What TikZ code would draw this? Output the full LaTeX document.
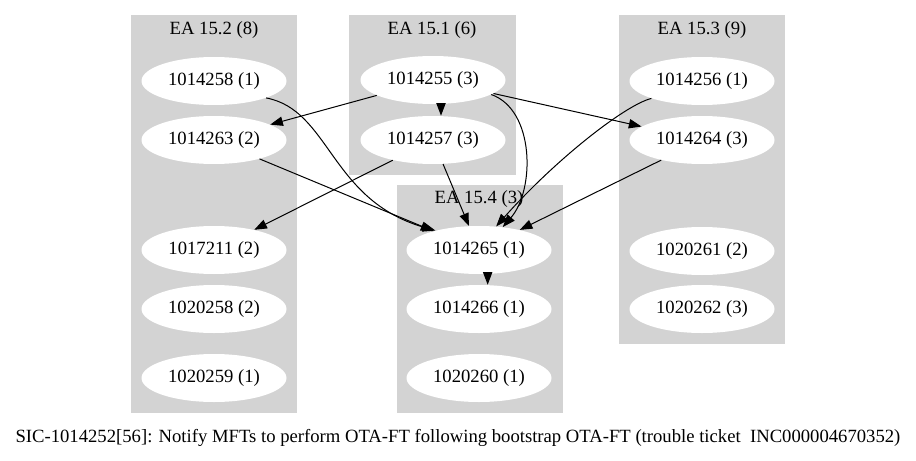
\documentclass[tikz,border=0pt]{standalone}
\usepackage{fontspec}
\setmainfont{Liberation Serif}
\usetikzlibrary{arrows.meta,shapes.geometric}
\definecolor{grisgroupe}{RGB}{211,211,211}

\begin{document}
\begin{tikzpicture}[x=0.75pt, y=-0.75pt,
    etat/.style={ellipse, fill=white, minimum width=108.75pt, minimum height=36pt, inner sep=0pt, font=\fontsize{14}{16}\selectfont},
    titre/.style={font=\fontsize{14}{16}\selectfont},
    arc/.style={-{Triangle[length=9.5pt,width=7pt]}, line width=0.75pt}]
    \useasboundingbox (0,0) rectangle (916,460);

    % Groupes
    \fill[grisgroupe] (131,15) rectangle (297,413);
    \fill[grisgroupe] (349,15) rectangle (516,175);
    \fill[grisgroupe] (619,15) rectangle (785,344);
    \fill[grisgroupe] (397,185) rectangle (563,413);
    \node[titre] (tEA152) at (214,30) {EA 15.2 (8)};
    \node[titre] (tEA151) at (432,30) {EA 15.1 (6)};
    \node[titre] (tEA153) at (702,30) {EA 15.3 (9)};
    \node[titre] (tEA154) at (479,199) {EA 15.4 (3)};

    % EA 15.2
    \node[etat] (n1014258) at (214,81) {1014258 (1)};
    \node[etat] (n1014263) at (214,140) {1014263 (2)};
    \node[etat] (n1017211) at (214,250) {1017211 (2)};
    \node[etat] (n1020258) at (214,309) {1020258 (2)};
    \node[etat] (n1020259) at (214,378) {1020259 (1)};

    % EA 15.1
    \node[etat] (n1014255) at (433,80) {1014255 (3)};
    \node[etat] (n1014257) at (433,140) {1014257 (3)};

    % EA 15.4
    \node[etat] (n1014265) at (479,250) {1014265 (1)};
    \node[etat] (n1014266) at (479,309) {1014266 (1)};
    \node[etat] (n1020260) at (479,378) {1020260 (1)};

    % EA 15.3
    \node[etat] (n1014256) at (702,81) {1014256 (1)};
    \node[etat] (n1014264) at (702,140) {1014264 (3)};
    \node[etat] (n1020261) at (702,251) {1020261 (2)};
    \node[etat] (n1020262) at (702,309) {1020262 (3)};

    % Dependances
    \draw[arc] (n1014255) -- (n1014263);
    \draw[arc] ([xshift=6pt]n1014255.south) -- ([xshift=6pt]n1014257.north);
    \draw[arc] (n1014255) -- (n1014264);
    \draw[arc] (n1014255.-14) .. controls (535,110) and (535,190) .. (n1014265.44);
    \draw[arc] (n1014258.-18) .. controls (330,110) and (330,200) .. (n1014265.156);
    \draw[arc] (n1014263) -- (n1014265);
    \draw[arc] (n1014257) -- (n1017211);
    \draw[arc] (n1014257) -- (n1014265);
    \draw[arc] (n1014256.-161) .. controls (625,105) and (555,160) .. (n1014265.54);
    \draw[arc] (n1014264) -- (n1014265);
    \draw[arc] ([xshift=6.5pt]n1014265.south) -- ([xshift=6.5pt]n1014266.north);

    % Legende
    \node[titre] (legende) at (458,438) {SIC-1014252[56]: Notify MFTs to perform OTA-FT following bootstrap OTA-FT (trouble ticket\ \ INC000004670352)};
\end{tikzpicture}
\end{document}
